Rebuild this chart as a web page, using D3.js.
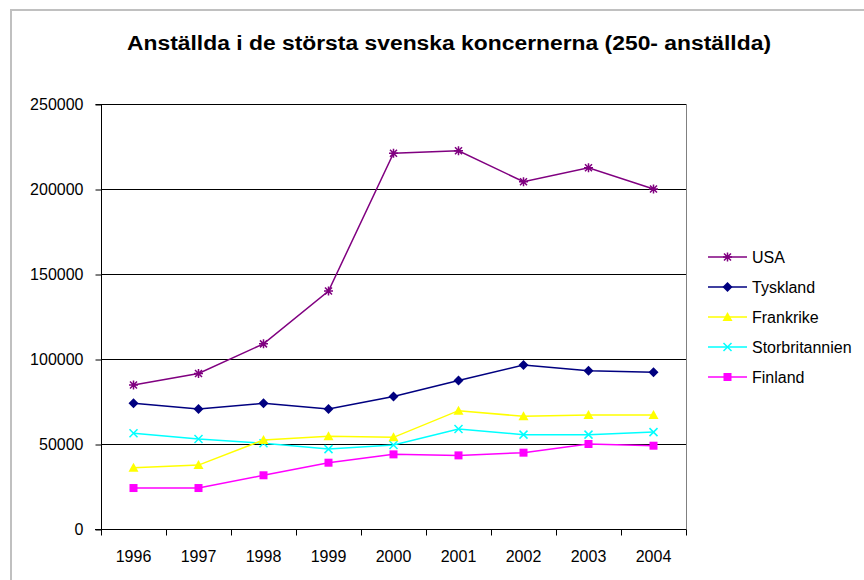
<!DOCTYPE html>
<html>
<head>
<meta charset="utf-8">
<script src="https://cdn.jsdelivr.net/npm/d3@7"></script>
<style>
  body { margin: 0; background: #fff; }
  svg { display: block; font-family: "Liberation Sans", Arial, sans-serif; }
</style>
</head>
<body>
<svg id="drawing_region"></svg>
<script>
// data
const years = ['1996', '1997', '1998', '1999', '2000', '2001', '2002', '2003', '2004'];
const usa = [84700, 91500, 108900, 140000, 221000, 222500, 204300, 212500, 200000];
const tyskland = [73900, 70600, 73900, 70600, 78000, 87300, 96500, 93100, 92200];
const frankrike = [36100, 37600, 52400, 54500, 53900, 69600, 66300, 67000, 67000];
const storbritannien = [56300, 52900, 50400, 47000, 49400, 58800, 55500, 55500, 57000];
const finland = [24100, 24100, 31600, 39000, 43900, 43300, 44900, 50000, 49000];
const yTicks = [0, 50000, 100000, 150000, 200000, 250000];

const series = [
    { name: 'USA', values: usa, color: '#800080', marker: 'star' },
    { name: 'Tyskland', values: tyskland, color: '#000080', marker: 'diamond' },
    { name: 'Frankrike', values: frankrike, color: '#ffff00', marker: 'triangle' },
    { name: 'Storbritannien', values: storbritannien, color: '#00ffff', marker: 'cross' },
    { name: 'Finland', values: finland, color: '#ff00ff', marker: 'square' }
];

const config = {
    width: 864,
    height: 580,
    margin: { top: 104, right: 178, bottom: 51, left: 101 }
};

const svg = d3.select('#drawing_region')
    .attr('width', config.width)
    .attr('height', config.height);

// outer chart border (only left and top visible)
svg.append('path')
    .attr('d', `M11,${config.height} V10 H${config.width}`)
    .attr('fill', 'none')
    .attr('stroke', '#c0c0c0')
    .attr('stroke-width', 2);

svg.append('text')
    .attr('x', 449)
    .attr('y', 50)
    .attr('text-anchor', 'middle')
    .attr('font-size', 19.5)
    .attr('font-weight', 'bold')
    .attr('textLength', 644)
    .attr('lengthAdjust', 'spacingAndGlyphs')
    .text('Anställda i de största svenska koncernerna (250- anställda)');

const inner_width = config.width - config.margin.left - config.margin.right;
const inner_height = config.height - config.margin.top - config.margin.bottom;

const chart = svg.append('g')
    .attr('transform', `translate(${config.margin.left}, ${config.margin.top})`);

const xscale = d3.scaleBand().domain(years).range([0, inner_width]);
const yscale = d3.scaleLinear().domain([0, 250000]).range([inner_height, 0]);

// gridlines
chart.append('g')
    .selectAll('line')
    .data(yTicks.filter(d => d > 0))
    .join('line')
    .attr('x1', 0)
    .attr('x2', inner_width)
    .attr('y1', d => yscale(d) + 0.5)
    .attr('y2', d => yscale(d) + 0.5)
    .attr('stroke', '#000')
    .attr('stroke-width', 1);

// right border of the plot area
chart.append('line')
    .attr('x1', inner_width + 0.5).attr('x2', inner_width + 0.5)
    .attr('y1', 0).attr('y2', inner_height)
    .attr('stroke', '#808080');

// y axis
const yaxis = d3.axisLeft(yscale).tickValues(yTicks).tickSize(6).tickPadding(12).tickFormat(d3.format('d'));
const yaxis_group = chart.append('g')
    .attr('transform', 'translate(0.5, 0.5)')
    .call(yaxis);

// x axis with ticks at band edges
const xaxis_group = chart.append('g')
    .attr('transform', `translate(0, ${inner_height + 0.5})`);
xaxis_group.append('line')
    .attr('x1', -6).attr('x2', inner_width + 0.5)
    .attr('stroke', '#000');
xaxis_group.selectAll('line.tick')
    .data(years.concat(['end']))
    .join('line')
    .attr('class', 'tick')
    .attr('x1', (d, i) => Math.round(i * xscale.step()) + 0.5)
    .attr('x2', (d, i) => Math.round(i * xscale.step()) + 0.5)
    .attr('y1', 0).attr('y2', 6)
    .attr('stroke', '#000');
xaxis_group.selectAll('text')
    .data(years)
    .join('text')
    .attr('x', d => xscale(d) + xscale.bandwidth() / 2)
    .attr('y', 32)
    .attr('text-anchor', 'middle')
    .attr('font-size', 16)
    .attr('fill', '#000')
    .text(d => d);

yaxis_group.selectAll('text').attr('font-size', 16).attr('fill', '#000').attr('font-family', '"Liberation Sans", Arial, sans-serif');
yaxis_group.selectAll('path, line').attr('stroke', '#000');
yaxis_group.select('.domain').attr('d', `M-6,0H0V${inner_height}`);

// marker shapes
function drawMarker(g, type, color) {
    if (type === 'star') {
        g.append('path').attr('d', 'M-4.5,0H4.5M0,-4.5V4.5M-3.5,-3.5L3.5,3.5M-3.5,3.5L3.5,-3.5')
            .attr('stroke', color).attr('stroke-width', 1.5).attr('fill', 'none');
    } else if (type === 'cross') {
        g.append('path').attr('d', 'M-4,-4L4,4M-4,4L4,-4')
            .attr('stroke', color).attr('stroke-width', 1.5).attr('fill', 'none');
    } else if (type === 'diamond') {
        g.append('path').attr('d', 'M0,-5L5,0L0,5L-5,0Z').attr('fill', color);
    } else if (type === 'triangle') {
        g.append('path').attr('d', 'M0,-5L5,4L-5,4Z').attr('fill', color);
    } else if (type === 'square') {
        g.append('rect').attr('x', -4).attr('y', -4).attr('width', 8).attr('height', 8).attr('fill', color);
    }
}

const line = d3.line()
    .x((d, i) => xscale(years[i]) + xscale.bandwidth() / 2)
    .y(d => yscale(d));

series.slice().reverse().forEach(s => {
    chart.append('path')
        .datum(s.values)
        .attr('d', line)
        .attr('fill', 'none')
        .attr('stroke', s.color)
        .attr('stroke-width', 1.5);
    s.values.forEach((v, i) => {
        const g = chart.append('g')
            .attr('transform', `translate(${xscale(years[i]) + xscale.bandwidth() / 2}, ${yscale(v)})`);
        drawMarker(g, s.marker, s.color);
    });
});

// legend
const legend = svg.append('g').attr('transform', 'translate(708, 257)');
series.forEach((s, i) => {
    const row = legend.append('g').attr('transform', `translate(0, ${i * 30})`);
    row.append('line').attr('x1', 0).attr('x2', 39).attr('stroke', s.color).attr('stroke-width', 1.5);
    drawMarker(row.append('g').attr('transform', 'translate(19.5, 0)'), s.marker, s.color);
    row.append('text')
        .attr('x', 44)
        .attr('y', 6)
        .attr('font-size', 16)
        .text(s.name);
});
</script>
</body>
</html>
